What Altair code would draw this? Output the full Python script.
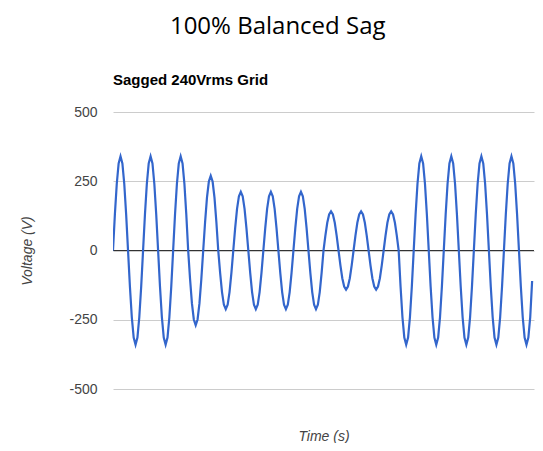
import altair as alt
import pandas as pd

# Voltage samples (16 samples per 20 ms cycle)
voltage = [
    0, 130, 240, 314, 340, 314, 240, 130, 0, -130, -240, -314, -340, -314, -240, -130,
    0, 130, 240, 314, 340, 314, 240, 130, 0, -130, -240, -314, -340, -314, -240, -130,
    0, 130, 240, 314, 340, 314, 240, 130, 0, -103, -191, -249, -270, -249, -191, -103,
    0, 103, 191, 249, 270, 249, 191, 103, 0, -81, -150, -196, -212, -196, -150, -81,
    0, 81, 150, 196, 212, 196, 150, 81, 0, -81, -150, -196, -212, -196, -150, -81,
    0, 81, 150, 196, 212, 196, 150, 81, 0, -81, -150, -196, -212, -196, -150, -81,
    0, 81, 150, 196, 212, 196, 150, 81, 0, -81, -150, -196, -212, -196, -150, -81,
    0, 54, 100, 130, 141, 130, 100, 54, 0, -54, -100, -130, -141, -130, -100, -54,
    0, 54, 100, 130, 141, 130, 100, 54, 0, -54, -100, -130, -141, -130, -100, -54,
    0, 54, 100, 130, 141, 130, 100, 54, 0, -130, -240, -314, -340, -314, -240, -130,
    0, 130, 240, 314, 340, 314, 240, 130, 0, -130, -240, -314, -340, -314, -240, -130,
    0, 130, 240, 314, 340, 314, 240, 130, 0, -130, -240, -314, -340, -314, -240, -130,
    0, 130, 240, 314, 340, 314, 240, 130, 0, -130, -240, -314, -340, -314, -240, -130,
    0, 130, 240, 314, 340, 314, 240, 130, 0, -130, -240, -314, -340, -314, -240, -110,
]
sample_step = 0.00125  # seconds between samples
y_ticks = [-500, -250, 0, 250, 500]
title_text = "100% Balanced Sag"
subtitle_text = "Sagged 240Vrms Grid"

df = pd.DataFrame({"t": [i * sample_step for i in range(len(voltage))], "v": voltage})

font = "Liberation Sans"

x_enc = alt.X("t:Q", scale=alt.Scale(domain=[0, 0.28], nice=False, zero=False),
              axis=alt.Axis(title="Time (s)", labels=False, ticks=False, domain=False,
                            grid=False, titlePadding=40))
y_enc = alt.Y("v:Q", scale=alt.Scale(domain=[-500, 500], nice=False),
              axis=alt.Axis(title="Voltage (V)", values=y_ticks, ticks=False, domain=False,
                            grid=True, gridColor="#cccccc", labelPadding=16,
                            labelExpr="'' + datum.value", titlePadding=34))

line = alt.Chart(df).mark_line(color="#3366cc", strokeWidth=2.2, clip=True).encode(x=x_enc, y=y_enc)

zero = alt.Chart(pd.DataFrame({"v": [0]})).mark_rule(color="#333333", strokeWidth=1).encode(
    y=alt.Y("v:Q", scale=alt.Scale(domain=[-500, 500], nice=False))
)

sub = alt.Chart(pd.DataFrame({"s": [subtitle_text]})).mark_text(
    align="left", baseline="middle", font=font, fontSize=15, fontWeight="bold", color="#000000"
).encode(x=alt.value(0), y=alt.value(-32), text="s:N")

chart = alt.layer(zero, line, sub).properties(
    width=527, height=435,
    autosize=alt.AutoSizeParams(type="fit", contains="padding"),
    title=alt.TitleParams(title_text, font="Open Sans", fontSize=24, fontWeight="normal",
                          color="#000000", anchor="middle", frame="bounds", offset=34),
    padding={"left": 12, "top": 7, "right": 0, "bottom": 0},
).configure_view(stroke=None).configure_axis(
    labelFont=font, labelFontSize=14, labelColor="#444444",
    titleFont=font, titleFontSize=14, titleFontStyle="italic", titleFontWeight="normal",
    titleColor="#444444",
)

chart.save("out.html", embed_options={"renderer": "svg", "actions": False})
